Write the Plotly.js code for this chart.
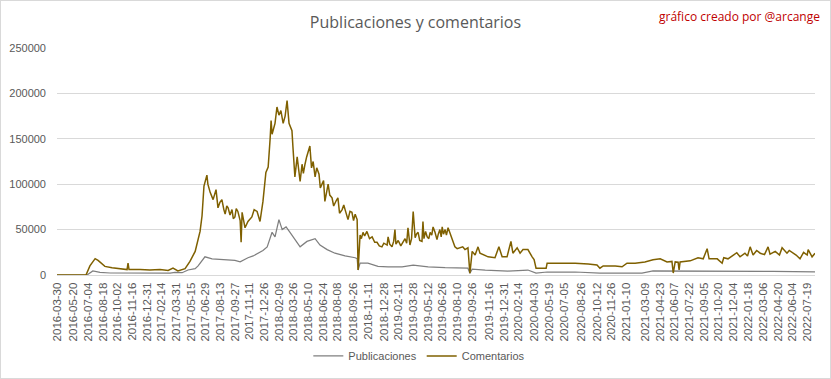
<!DOCTYPE html>
<html>
<head>
<meta charset="utf-8">
<script src="https://cdn.plot.ly/plotly-3.0.1.min.js"></script>
<style>
  html, body { margin: 0; padding: 0; background: #fff; }
  #wrap { position: relative; width: 831px; height: 379px; }
  #chart { position: absolute; left: 0; top: 0; width: 831px; height: 379px; }
  #frame { position: absolute; left: 0; top: 0; width: 831px; height: 379px; box-sizing: border-box; border: 1px solid #d9d9d9; pointer-events: none; }
</style>
</head>
<body>
<div id="wrap"><div id="chart"></div><div id="frame"></div></div>
<script>
// Tick labels shown on the x axis
const tickLabels = [
  "2016-03-30","2016-05-20","2016-07-04","2016-08-18","2016-10-02","2016-11-16","2016-12-31",
  "2017-02-14","2017-03-31","2017-05-15","2017-06-29","2017-08-13","2017-09-27","2017-11-11","2017-12-26",
  "2018-02-09","2018-03-26","2018-05-10","2018-06-24","2018-08-08","2018-09-26","2018-11-11","2018-12-28",
  "2019-02-11","2019-03-28","2019-05-12","2019-06-26","2019-08-10","2019-09-26","2019-11-16","2019-12-31",
  "2020-02-14","2020-04-03","2020-05-19","2020-07-05","2020-08-26","2020-10-12","2020-11-26",
  "2021-01-10","2021-03-09","2021-04-23","2021-06-07","2021-07-22","2021-09-05","2021-10-20","2021-12-04",
  "2022-01-18","2022-03-06","2022-04-20","2022-06-04","2022-07-19"
];

// Publicaciones (posts per day)
const pubDates = [
  "2016-03-30","2016-06-30","2016-07-18","2016-08-09","2016-09-09","2016-12-10","2017-03-12","2017-03-27",
  "2017-04-18","2017-05-06","2017-05-28","2017-06-06","2017-06-15","2017-06-27","2017-07-19","2017-08-12",
  "2017-09-06","2017-09-27","2017-10-13","2017-10-25","2017-11-06","2017-11-22","2017-12-07","2017-12-22",
  "2018-01-04","2018-01-19","2018-01-28","2018-02-09","2018-02-19","2018-03-03","2018-03-15","2018-03-30",
  "2018-04-15","2018-05-06","2018-05-31","2018-06-15","2018-07-07","2018-07-31","2018-08-31","2018-10-01",
  "2018-10-07","2018-10-10","2018-10-16","2018-11-09","2018-12-10","2019-01-10","2019-02-22","2019-03-28",
  "2019-05-13","2019-07-04","2019-09-12","2019-09-18","2019-09-25","2019-11-04","2020-01-13","2020-03-14",
  "2020-04-02","2020-04-08","2020-05-12","2020-08-06","2020-10-21","2021-02-27","2021-04-02","2021-06-03",
  "2021-09-15","2021-12-25","2022-04-05","2022-08-12"
];
const pubValues = [
  0,0,4400,3000,2200,2000,2000,3000,
  2500,5500,7000,10000,14000,20000,17800,17000,
  16700,16000,14400,17000,19000,21000,24000,27000,
  31000,47000,42000,61000,50000,53000,47000,39000,
  31000,37000,40000,33000,28000,24000,21000,19000,
  18000,5500,13000,13000,9500,9000,9000,11000,
  9000,8000,7500,2000,6500,5500,4400,5500,
  3300,2000,3300,3300,2200,2200,4400,4400,
  4400,4400,4000,3500
];

// Comentarios (comments per day)
const comDates = [
  "2016-03-30","2016-06-27","2016-07-09","2016-07-25","2016-08-03","2016-08-24","2016-09-15","2016-10-15",
  "2016-10-31","2016-11-03","2016-11-06","2016-12-10","2017-01-09","2017-02-09","2017-03-06","2017-03-21",
  "2017-04-05","2017-04-27","2017-05-12","2017-05-28","2017-06-06","2017-06-12","2017-06-18","2017-06-24",
  "2017-07-03","2017-07-06","2017-07-13","2017-07-22","2017-07-31","2017-08-02","2017-08-06","2017-08-12",
  "2017-08-18","2017-08-24","2017-08-28","2017-09-02","2017-09-06","2017-09-12","2017-09-18","2017-09-22",
  "2017-09-27","2017-10-01","2017-10-06","2017-10-13","2017-10-16","2017-10-19","2017-10-28","2017-11-06",
  "2017-11-18","2017-11-25","2017-12-04","2017-12-13","2017-12-22","2017-12-31","2018-01-07","2018-01-13",
  "2018-01-16","2018-01-19","2018-01-28","2018-02-03","2018-02-09","2018-02-15","2018-02-22","2018-02-28",
  "2018-03-06","2018-03-12","2018-03-21","2018-03-24","2018-03-30","2018-04-06","2018-04-15","2018-04-21",
  "2018-04-25","2018-04-30","2018-05-05","2018-05-15","2018-05-20","2018-05-25","2018-05-31","2018-06-05",
  "2018-06-12","2018-06-16","2018-06-21","2018-06-26","2018-06-30","2018-07-05","2018-07-10","2018-07-15",
  "2018-07-22","2018-07-27","2018-07-31","2018-08-04","2018-08-09","2018-08-14","2018-08-22","2018-08-27",
  "2018-08-31","2018-09-04","2018-09-09","2018-09-15","2018-09-21","2018-09-26","2018-10-01","2018-10-07",
  "2018-10-10","2018-10-16","2018-10-20","2018-10-25","2018-10-30","2018-11-06","2018-11-14","2018-11-22",
  "2018-11-30","2018-12-07","2018-12-14","2018-12-22","2018-12-28","2019-01-07","2019-01-10","2019-01-15",
  "2019-01-22","2019-01-27","2019-01-31","2019-02-03","2019-02-10","2019-02-18","2019-02-25","2019-03-03",
  "2019-03-08","2019-03-12","2019-03-18","2019-03-23","2019-03-28","2019-04-03","2019-04-07","2019-04-12",
  "2019-04-17","2019-04-24","2019-04-27","2019-04-30","2019-05-05","2019-05-10","2019-05-15","2019-05-19",
  "2019-05-24","2019-05-28","2019-06-03","2019-06-09","2019-06-13","2019-06-18","2019-06-22","2019-06-25",
  "2019-06-29","2019-07-04","2019-07-08","2019-07-13","2019-07-18","2019-07-25","2019-07-29","2019-08-03",
  "2019-08-10","2019-08-19","2019-08-27","2019-09-03","2019-09-12","2019-09-18","2019-09-25","2019-10-04",
  "2019-10-13","2019-10-19","2019-11-13","2019-12-04","2019-12-16","2019-12-26","2020-01-10","2020-01-22",
  "2020-01-28","2020-02-10","2020-02-19","2020-02-28","2020-03-14","2020-03-27","2020-04-02","2020-04-08",
  "2020-05-09","2020-05-12","2020-06-15","2020-08-06","2020-09-15","2020-10-12","2020-10-21","2020-10-31",
  "2020-12-07","2020-12-28","2021-01-12","2021-02-06","2021-03-08","2021-04-02","2021-04-24","2021-05-15",
  "2021-05-30","2021-06-03","2021-06-09","2021-06-18","2021-06-21","2021-06-24","2021-07-25","2021-08-18",
  "2021-09-03","2021-09-15","2021-09-21","2021-10-16","2021-10-31","2021-11-05","2021-11-18","2021-12-04",
  "2021-12-15","2021-12-25","2022-01-09","2022-01-17","2022-01-25","2022-02-03","2022-02-14","2022-02-25",
  "2022-03-10","2022-03-21","2022-03-27","2022-04-12","2022-04-25","2022-05-03","2022-05-18","2022-05-25",
  "2022-06-06","2022-06-15","2022-06-27","2022-07-08","2022-07-19","2022-07-22","2022-08-03","2022-08-12"
];
const comValues = [
  0,0,10000,18000,16000,9500,8000,6500,
  6000,13000,6000,6000,5500,6000,5000,7500,
  4500,7000,15000,26000,40000,48000,65000,98000,
  110000,100000,91000,83000,94000,88000,74000,80000,
  83000,72000,67000,76000,74000,66000,72000,62000,
  64000,73000,70000,60000,36000,69000,52000,59000,
  64000,72000,70000,59000,81000,113000,119000,150000,
  170000,155000,167000,185000,176000,181000,167000,175000,
  192000,167000,159000,141000,108000,130000,103000,122000,
  112000,122000,130000,142000,118000,125000,108000,118000,
  111000,96000,100000,104000,81000,92000,100000,88000,
  85000,76000,80000,82000,85000,68000,72000,77000,
  72000,66000,61000,70000,69000,60000,67000,61000,
  5500,44000,40000,47000,43000,48000,40000,42000,
  36000,36000,32000,31000,35000,33000,42000,34000,
  31000,37000,50000,34000,38000,32000,36000,40000,
  35000,52000,33000,40000,70000,41000,45000,47000,
  38000,37000,59000,40000,48000,42000,40000,47000,
  44000,53000,47000,39000,45000,50000,42000,53000,
  45000,50000,44000,52000,47000,39000,35000,31000,
  29000,30000,31000,28000,30000,2000,26000,22000,
  31000,24000,20000,19000,31000,20000,20000,37000,
  24000,30000,24000,28000,28000,20000,17000,7500,
  7500,13000,13000,13000,12000,11000,7500,10000,
  10000,9000,13000,13000,14400,16700,17800,14400,
  15000,2200,14400,14000,5500,14400,15600,19000,
  17800,29000,17800,17800,13000,19000,17800,22000,
  24500,20000,24000,21000,31000,22000,27000,24000,
  22500,31000,23000,26000,22000,30000,24000,27000,
  24000,22000,17800,25000,22000,28000,20000,24000
];

const grey = "#595959";
const baseFont = "Liberation Sans, Arial, sans-serif";

const traces = [
  { type: "scatter", mode: "lines", name: "Publicaciones", x: pubDates, y: pubValues,
    line: { color: "#7f7f7f", width: 1.25 } },
  { type: "scatter", mode: "lines", name: "Comentarios", x: comDates, y: comValues,
    line: { color: "#7f6000", width: 1.5 } }
];

const layout = {
  width: 831, height: 379,
  margin: { l: 57, r: 16, t: 48, b: 104 },
  paper_bgcolor: "#ffffff", plot_bgcolor: "#ffffff",
  font: { family: baseFont, color: grey, size: 11 },
  title: { text: "Publicaciones y comentarios", x: 0.5, xanchor: "center", y: 0.942, yanchor: "middle",
    font: { family: "Open Sans, sans-serif", size: 16, color: grey } },
  showlegend: true,
  legend: { orientation: "h", x: 0.478, xanchor: "center", yref: "container", y: 0.0607, yanchor: "middle",
    font: { size: 11, color: grey } },
  xaxis: {
    type: "date", range: ["2016-03-30", "2022-08-12"],
    tickmode: "array", tickvals: tickLabels, ticktext: tickLabels, tickangle: -90,
    tickfont: { size: 11.5, color: grey }, ticks: "", showgrid: false,
    showline: true, linecolor: "#d9d9d9", linewidth: 1, zeroline: false, ticklabelstandoff: 2
  },
  yaxis: {
    range: [0, 250000], tickvals: [0, 50000, 100000, 150000, 200000, 250000],
    ticktext: ["0", "50000", "100000", "150000", "200000", "250000"],
    tickfont: { size: 11, color: grey }, showgrid: true, gridcolor: "#d9d9d9", gridwidth: 1,
    zeroline: false, showline: false, ticks: "", ticklabelstandoff: 10
  },
  annotations: [
    { text: "gráfico creado por @arcange", xref: "paper", yref: "paper", x: 1.009, xanchor: "right",
      y: 1.137, yanchor: "middle", showarrow: false, font: { family: "Open Sans, sans-serif", size: 12, color: "#c00000" } }
  ]
};

Plotly.newPlot("chart", traces, layout, { displayModeBar: false, staticPlot: true });
</script>
</body>
</html>
